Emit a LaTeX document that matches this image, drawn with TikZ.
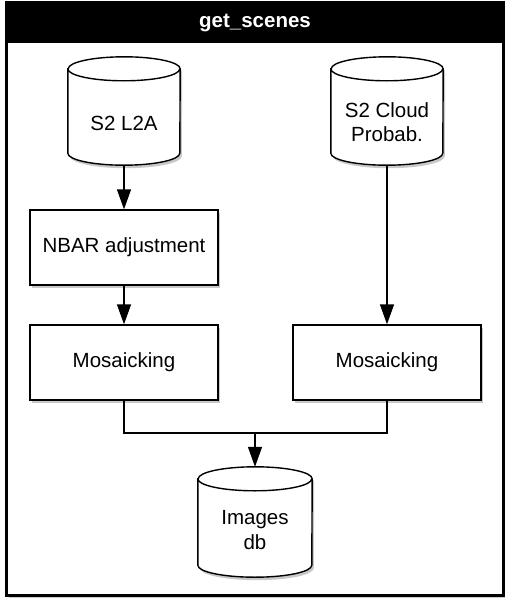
\documentclass[tikz,border=0pt]{standalone}
\usepackage{fontspec}
\setmainfont{Liberation Sans}
\usetikzlibrary{shadows,arrows.meta}
\begin{document}
\begin{tikzpicture}[x=1pt,y=1pt,
  txt/.style={font=\fontsize{20.5}{24.5}\selectfont, align=center, text=black},
  shd/.style={drop shadow={shadow xshift=2pt,shadow yshift=-3pt,fill=black!60,opacity=0.35}},
  procbox/.style={txt, draw, fill=white, line width=1.4pt, minimum width=188pt, minimum height=75pt, inner sep=0pt, shd},
  dbbody/.style={txt, inner sep=0pt},
  cylpath/.style={draw, fill=white, line width=1.4pt, shd},
  conn/.style={line width=1.4pt},
  arr/.style={conn, -{Triangle[length=20pt,width=14pt]}},
  framebox/.style={draw, fill=white, line width=2pt, minimum width=496pt, minimum height=592pt, inner sep=0pt, drop shadow={shadow xshift=2pt,shadow yshift=-3pt,fill=black!60,opacity=0.35}},
  titlebar/.style={fill=black, text=white, font=\fontsize{20.5}{24.5}\selectfont\bfseries, minimum width=496pt, minimum height=40pt, inner sep=0pt}
]
\useasboundingbox (0,0) rectangle (510,-608);
\node[framebox] (frame) at (255,-299) {};
\node[titlebar] (title) at (255,-23) {get\_scenes};
\draw[line width=2pt] (frame.north west) rectangle (frame.south east);

% cylinders
\node[dbbody, minimum width=112pt, minimum height=84pt] (l2a) at (124,-123) {};
\node[dbbody, minimum width=112pt, minimum height=84pt] (cld) at (387,-123) {};
\node[dbbody, minimum width=114pt, minimum height=86pt] (db) at (255,-534) {};
\foreach \c/\rx in {l2a/56, cld/56, db/57}{
  \path[cylpath] ([yshift=12pt]\c.north west) -- ([yshift=12pt]\c.south west)
     arc[start angle=180,end angle=360,x radius=\rx pt,y radius=12pt]
     -- ([yshift=12pt]\c.north east)
     arc[start angle=0,end angle=180,x radius=\rx pt,y radius=12pt] -- cycle;
  \draw[line width=1.4pt] ([yshift=12pt]\c.north west)
     arc[start angle=180,end angle=360,x radius=\rx pt,y radius=12pt];
}
\node[txt] at (l2a) {S2 L2A};
\node[txt] at ([yshift=1pt]cld) {S2 Cloud\\Probab.};
\node[txt] at ([yshift=4pt]db) {Images\\db};

% process boxes
\node[procbox] (nbar) at (124,-247.5) {NBAR adjustment};
\node[procbox] (mos1) at (124,-362.5) {Mosaicking};
\node[procbox] (mos2) at (387,-362.5) {Mosaicking};
\coordinate (j) at (255,-433);

% connectors
\draw[arr] (l2a.south) -- (nbar.north);
\draw[arr] (nbar.south) -- (mos1.north);
\draw[arr] (cld.south) -- (mos2.north);
\draw[conn] (mos1.south) |- (j) -| (mos2.south);
\draw[arr] (j) -- ([yshift=24pt]db.north);
\end{tikzpicture}
\end{document}
